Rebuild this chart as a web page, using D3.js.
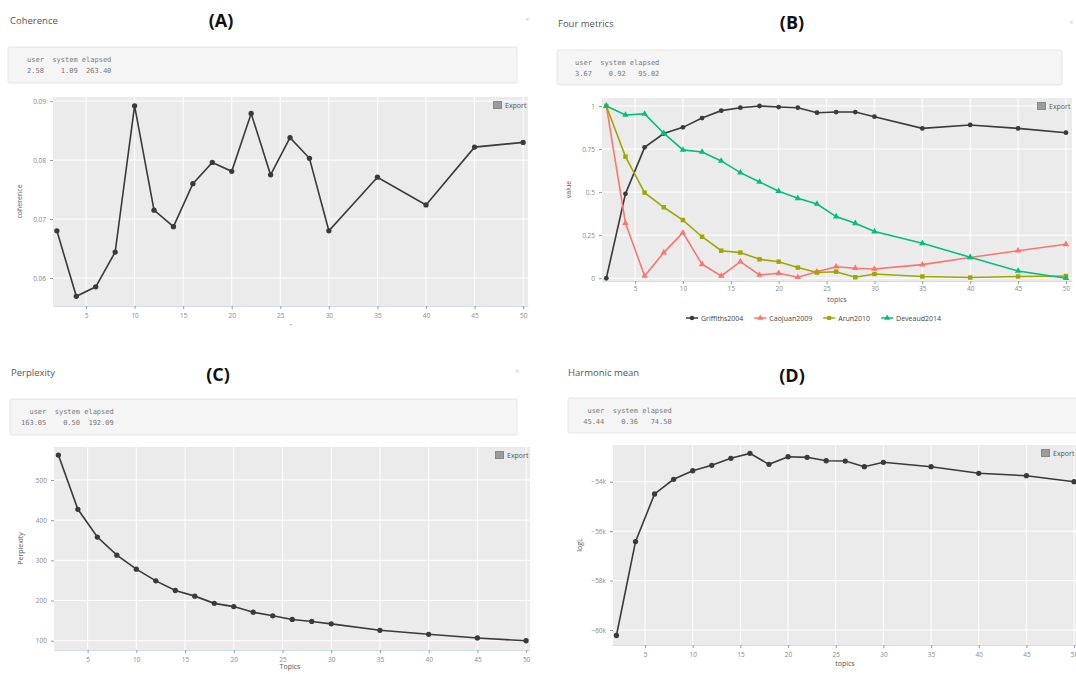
<!DOCTYPE html>
<html>
<head>
<meta charset="utf-8">
<script src="https://cdn.jsdelivr.net/npm/d3@7/dist/d3.min.js"></script>
<style>
    body { margin: 0; background: #fff; }
    svg { display: block; font-family: "Open Sans", sans-serif; }
</style>
</head>
<body>
<svg id="drawing_region"></svg>
<script>
// ---- data ----
const topics = [2, 4, 6, 8, 10, 12, 14, 16, 18, 20, 22, 24, 26, 28, 30, 35, 40, 45, 50];
const xTicks = [5, 10, 15, 20, 25, 30, 35, 40, 45, 50];

const coherence = [0.0680, 0.0569, 0.0585, 0.0644, 0.0892, 0.0715, 0.0687, 0.0760, 0.0796, 0.0781,
    0.0879, 0.0775, 0.0838, 0.0803, 0.0680, 0.0771, 0.0724, 0.0822, 0.0830];
const coherenceTicks = [0.06, 0.07, 0.08, 0.09];

const metricNames = ['Griffiths2004', 'CaoJuan2009', 'Arun2010', 'Deveaud2014'];
const griffiths = [0.00, 0.49, 0.76, 0.84, 0.876, 0.93, 0.973, 0.99, 1.00, 0.994,
    0.99, 0.961, 0.965, 0.965, 0.938, 0.870, 0.890, 0.870, 0.845];
const caojuan = [1.00, 0.32, 0.013, 0.149, 0.265, 0.081, 0.013, 0.096, 0.019, 0.029,
    0.006, 0.038, 0.067, 0.058, 0.054, 0.079, 0.120, 0.160, 0.197];
const arun = [1.00, 0.706, 0.497, 0.412, 0.338, 0.241, 0.160, 0.149, 0.110, 0.096,
    0.062, 0.033, 0.038, 0.006, 0.025, 0.010, 0.004, 0.010, 0.013];
const deveaud = [1.00, 0.948, 0.954, 0.842, 0.745, 0.733, 0.681, 0.613, 0.559, 0.505,
    0.464, 0.431, 0.358, 0.319, 0.271, 0.203, 0.122, 0.042, 0.000];
const metricTicks = [0, 0.25, 0.5, 0.75, 1];
const metricTickLabels = ['0', '0.25', '0.5', '0.75', '1'];

const perplexity = [562, 427, 358, 313, 278, 249, 225, 211, 193, 185,
    171, 162, 153, 148, 142, 126, 116, 107, 100];
const perplexityTicks = [100, 200, 300, 400, 500];

const logL = [-60222, -56424, -54497, -53903, -53556, -53337, -53055, -52853, -53297, -52990,
    -53014, -53152, -53164, -53394, -53216, -53394, -53661, -53758, -54000];
const logLTicks = [-60000, -58000, -56000, -54000];

const timings = {
    A: ['  user  system elapsed', '  2.58    1.09  263.40'],
    B: ['  user  system elapsed', '  3.67    0.92   95.02'],
    C: ['  user  system elapsed', '163.05    0.50  192.09'],
    D: ['  user  system elapsed', ' 45.44    0.36   74.50']
};

// ---- drawing ----
const svg = d3.select('#drawing_region')
    .attr('width', 1076)
    .attr('height', 674);

function drawHeader(h) {
    let g = svg.append('g');
    g.append('text')
        .attr('x', h.titleX).attr('y', h.titleY)
        .attr('font-size', '9.5px').attr('fill', '#555')
        .text(h.title);
    g.append('text')
        .attr('x', h.labelX).attr('y', h.labelY)
        .attr('text-anchor', 'middle')
        .attr('font-size', '18px').attr('font-weight', 'bold').attr('fill', '#111')
        .text(h.label);
    if (h.closeX) {
        g.append('text')
            .attr('x', h.closeX).attr('y', h.titleY - 2)
            .attr('font-size', '8px').attr('fill', '#ccc')
            .text('×');
    }
    g.append('rect')
        .attr('x', h.box[0]).attr('y', h.box[1])
        .attr('width', h.box[2] - h.box[0]).attr('height', h.box[3] - h.box[1])
        .attr('rx', 2)
        .attr('fill', '#f5f5f5').attr('stroke', '#e6e6e6');
    h.lines.forEach((line, i) => {
        g.append('text')
            .attr('x', h.textX).attr('y', h.box[1] + 15 + i * 11)
            .attr('font-family', '"DejaVu Sans Mono", monospace')
            .attr('font-size', '7px').attr('fill', '#777')
            .style('white-space', 'pre')
            .text(line);
    });
}

function drawPanel(p) {
    let g = svg.append('g');
    let xscale = d3.scaleLinear().domain(p.xdomain).range([p.left, p.right]);
    let yscale = d3.scaleLinear().domain(p.ydomain).range([p.bottom, p.top]);

    g.append('rect')
        .attr('x', p.left).attr('y', p.top)
        .attr('width', p.right - p.left).attr('height', p.bottom - p.top)
        .attr('fill', '#ebebeb');

    // grid
    g.selectAll('.vgrid').data(xTicks).enter().append('line')
        .attr('x1', d => xscale(d)).attr('x2', d => xscale(d))
        .attr('y1', p.top).attr('y2', p.bottom)
        .attr('stroke', '#fff').attr('stroke-width', 1);
    g.selectAll('.hgrid').data(p.yticks).enter().append('line')
        .attr('y1', d => yscale(d)).attr('y2', d => yscale(d))
        .attr('x1', p.left).attr('x2', p.right)
        .attr('stroke', '#fff').attr('stroke-width', 1);

    // axes
    let xaxis = d3.axisBottom(xscale).tickValues(xTicks).tickSize(3).tickPadding(p.xpad || 4).tickSizeOuter(0);
    let yaxis = d3.axisLeft(yscale).tickValues(p.yticks).tickSize(3).tickPadding(4).tickSizeOuter(0)
        .tickFormat(p.yformat);
    let xg = g.append('g').attr('transform', `translate(0, ${p.bottom})`).call(xaxis);
    let yg = g.append('g').attr('transform', `translate(${p.left}, 0)`).call(yaxis);
    xg.select('.domain').attr('stroke', '#cfdcef');
    yg.select('.domain').remove();
    [xg, yg].forEach(a => {
        a.selectAll('.tick line').attr('stroke', '#999');
        a.selectAll('.tick text').attr('fill', '#888').attr('font-size', '6.5px')
            .attr('font-family', '"Open Sans", sans-serif');
    });

    // axis titles
    g.append('text')
        .attr('x', p.xlabelX).attr('y', p.xlabelY)
        .attr('text-anchor', 'middle')
        .attr('font-size', '7px').attr('fill', '#555')
        .text(p.xlabel);
    g.append('text')
        .attr('transform', `translate(${p.ylabelX}, ${(p.top + p.bottom) / 2}) rotate(-90)`)
        .attr('text-anchor', 'middle')
        .attr('font-size', '7px').attr('fill', '#555')
        .text(p.ylabel);

    // series
    let line = d3.line()
        .x((d, i) => xscale(topics[i]))
        .y(d => yscale(d));
    p.series.forEach(s => {
        g.append('path')
            .attr('d', line(s.values))
            .attr('fill', 'none')
            .attr('stroke', s.color)
            .attr('stroke-width', 1.6);
        g.selectAll(null).data(s.values).enter().append('path')
            .attr('d', d3.symbol().type(s.shape || d3.symbolCircle).size(s.size || 22))
            .attr('transform', (d, i) => `translate(${xscale(topics[i])}, ${yscale(d)})`)
            .attr('fill', s.color);
    });

    // export button
    let ex = g.append('g').attr('transform', `translate(${p.right - 35}, ${p.top + 4})`);
    ex.append('rect').attr('width', 9).attr('height', 8).attr('fill', '#888');
    [2, 4, 6].forEach(yy => ex.append('line')
        .attr('x1', 1).attr('x2', 8).attr('y1', yy).attr('y2', yy)
        .attr('stroke', '#ccc').attr('stroke-width', 0.6));
    ex.append('text').attr('x', 12).attr('y', 7)
        .attr('font-size', '7px').attr('fill', '#555')
        .text('Export');

    return { g, xscale, yscale };
}

// (A) Coherence
drawHeader({
    title: 'Coherence', titleX: 10, titleY: 24, label: '(A)', labelX: 221, labelY: 27, closeX: 525,
    box: [8, 47, 517, 83], textX: 18.6, lines: timings.A
});
drawPanel({
    left: 53, right: 528, top: 97, bottom: 306,
    xdomain: [1.6, 50.5], ydomain: [0.05525, 0.0907],
    yticks: coherenceTicks, yformat: d3.format('.2f'),
    xlabel: '-', xlabelX: 291, xlabelY: 326, ylabel: 'coherence', ylabelX: 22,
    series: [{ values: coherence, color: '#3a3a3a' }]
});

// (B) Four metrics
drawHeader({
    title: 'Four metrics', titleX: 558, titleY: 27, label: '(B)', labelX: 792, labelY: 29, closeX: 1069,
    box: [557, 50, 1062, 85], textX: 566.6, lines: timings.B
});
let colorsB = ['#3a3a3a', '#F8766D', '#A3A500', '#00BF7D'];
let shapesB = [d3.symbolCircle, d3.symbolTriangle, d3.symbolSquare, d3.symbolTriangle];
let valuesB = [griffiths, caojuan, arun, deveaud];
drawPanel({
    left: 602, right: 1072, top: 98, bottom: 281,
    xdomain: [1.55, 50.63], ydomain: [-0.016, 1.0464],
    yticks: metricTicks, yformat: (d, i) => metricTickLabels[i],
    xpad: 2,
    xlabel: 'topics', xlabelX: 837, xlabelY: 302, ylabel: 'value', ylabelX: 571,
    series: valuesB.map((v, i) => ({ values: v, color: colorsB[i], shape: shapesB[i], size: i == 2 ? 20 : 18 }))
});
// legend
let legend = svg.append('g').attr('transform', 'translate(686, 318)');
let lx = 0;
metricNames.forEach((name, i) => {
    let item = legend.append('g').attr('transform', `translate(${lx}, 0)`);
    item.append('line').attr('x1', 0).attr('x2', 12).attr('stroke', colorsB[i]).attr('stroke-width', 1.5);
    item.append('path')
        .attr('d', d3.symbol().type(shapesB[i]).size(16))
        .attr('transform', 'translate(6, 0)')
        .attr('fill', colorsB[i]);
    let t = item.append('text').attr('x', 15).attr('y', 2.5)
        .attr('font-size', '7px').attr('fill', '#444')
        .text(name);
    lx += 15 + t.node().getComputedTextLength() + 11;
});

// (C) Perplexity
drawHeader({
    title: 'Perplexity', titleX: 11, titleY: 376, label: '(C)', labelX: 218, labelY: 381, closeX: 515,
    box: [10, 399, 517, 435], textX: 21, lines: timings.C
});
drawPanel({
    left: 54, right: 530, top: 447, bottom: 650,
    xdomain: [1.55, 50.4], ydomain: [77, 582],
    yticks: perplexityTicks, yformat: d3.format('d'),
    xlabel: 'Topics', xlabelX: 290, xlabelY: 669, ylabel: 'Perplexity', ylabelX: 23,
    series: [{ values: perplexity, color: '#3a3a3a' }]
});

// (D) Harmonic mean
drawHeader({
    title: 'Harmonic mean', titleX: 568, titleY: 376, label: '(D)', labelX: 792, labelY: 382, closeX: null,
    box: [568, 398, 1080, 433], textX: 579, lines: timings.D
});
drawPanel({
    left: 613, right: 1076, top: 445, bottom: 645,
    xdomain: [1.64, 50.2], ydomain: [-60607, -52515],
    yticks: logLTicks, yformat: d => d3.format('d')(d / 1000) + 'k',
    xlabel: 'topics', xlabelX: 845, xlabelY: 666, ylabel: 'logL', ylabelX: 582,
    series: [{ values: logL, color: '#3a3a3a' }]
});
</script>
</body>
</html>
